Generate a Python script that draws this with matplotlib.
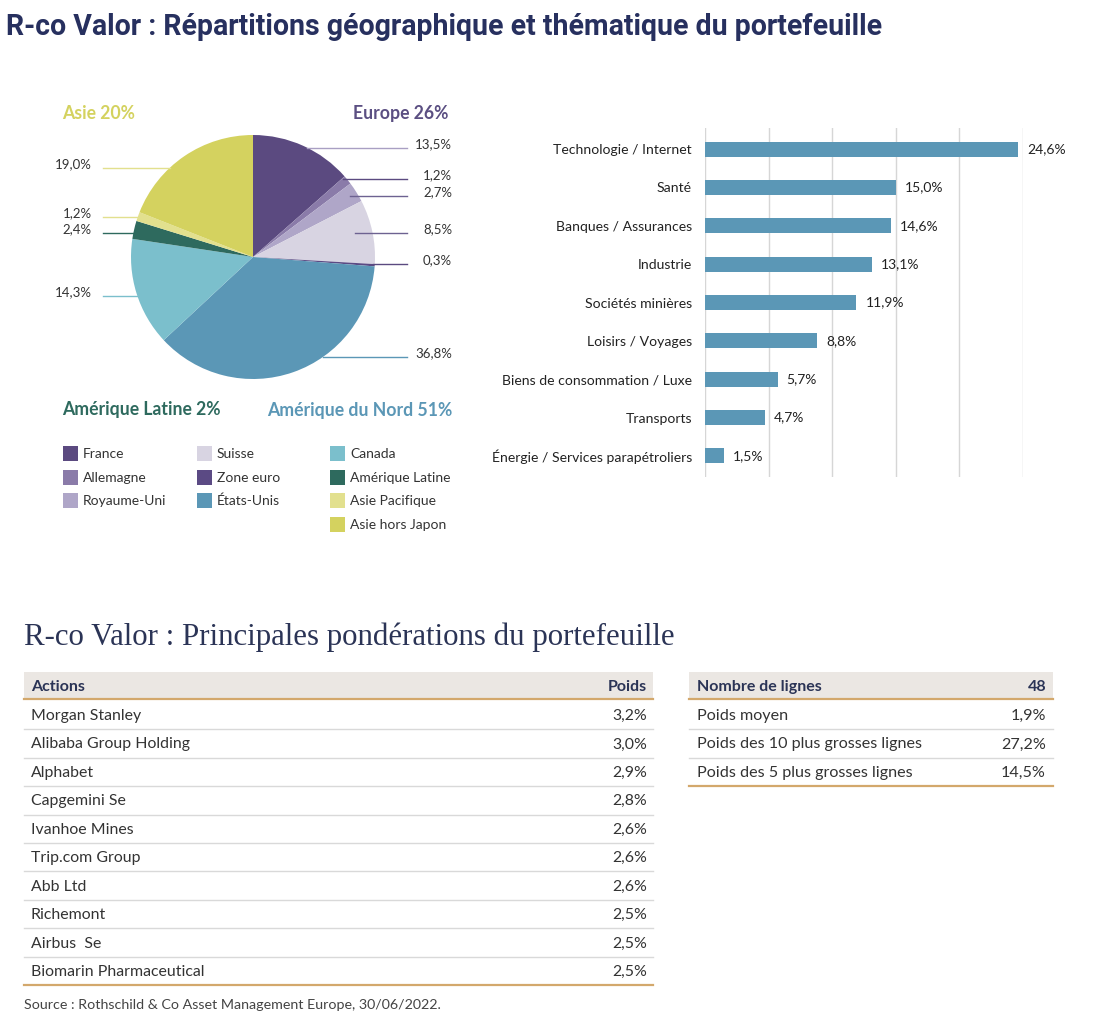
import matplotlib
matplotlib.use('Agg')
import matplotlib.pyplot as plt
from matplotlib.patches import Rectangle

# ---------------- data ----------------
geo_labels = ['France', 'Allemagne', 'Royaume-Uni', 'Suisse', 'Zone euro',
              'États-Unis', 'Canada', 'Amérique Latine', 'Asie Pacifique', 'Asie hors Japon']
geo_values = [13.5, 1.2, 2.7, 8.5, 0.3, 36.8, 14.3, 2.4, 1.2, 19.0]
geo_colors = ['#5b4a80', '#8a7ba9', '#afa6c8', '#d8d4e2', '#5b4a84',
              '#5b97b6', '#7bbfcc', '#2e6a5e', '#e2e08e', '#d4d25f']
region_labels = ['Asie 20%', 'Europe 26%', 'Amérique Latine 2%', 'Amérique du Nord 51%']
region_colors = ['#d4d25f', '#5b4f82', '#2e6a5e', '#5b97b6']

sector_labels = ['Technologie / Internet', 'Santé', 'Banques / Assurances', 'Industrie',
                 'Sociétés minières', 'Loisirs / Voyages', 'Biens de consommation / Luxe',
                 'Transports', 'Énergie / Services parapétroliers']
sector_values = [24.6, 15.0, 14.6, 13.1, 11.9, 8.8, 5.7, 4.7, 1.5]

actions = ['Morgan Stanley', 'Alibaba Group Holding', 'Alphabet', 'Capgemini Se',
           'Ivanhoe Mines', 'Trip.com Group', 'Abb Ltd', 'Richemont', 'Airbus  Se',
           'Biomarin Pharmaceutical']
poids = [3.2, 3.0, 2.9, 2.8, 2.6, 2.6, 2.6, 2.5, 2.5, 2.5]

stats_header = ['Nombre de lignes', '48']
stats_labels = ['Poids moyen', 'Poids des 10 plus grosses lignes', 'Poids des 5 plus grosses lignes']
stats_values = [1.9, 27.2, 14.5]

title1 = 'R-co Valor : Répartitions géographique et thématique du portefeuille'
title2 = 'R-co Valor : Principales pondérations du portefeuille'
source = 'Source : Rothschild & Co Asset Management Europe, 30/06/2022.'


def fmt(v):
    return f'{v:.1f}'.replace('.', ',') + '%'


# ---------------- layout ----------------
W, H = 1099, 1036
fig = plt.figure(figsize=(W / 100, H / 100), dpi=100)
fig.patch.set_facecolor('white')
SANS = ['Lato', 'DejaVu Sans']
NAVY = '#2b3456'
TXT = '#333333'


def px_axes(x0, y0, x1, y1):
    return fig.add_axes([x0 / W, 1 - y1 / H, (x1 - x0) / W, (y1 - y0) / H])


# pie
axp = px_axes(131, 135, 375, 379)
axp.pie(geo_values, colors=geo_colors, startangle=90, counterclock=False,
        radius=1, wedgeprops=dict(linewidth=0))
axp.set_xlim(-1, 1)
axp.set_ylim(-1, 1)
axp.set_aspect('equal')
axp.axis('off')

# bars
axb = px_axes(705, 128, 1023, 477)
ypos = list(range(len(sector_values)))
axb.barh(ypos, sector_values, height=0.39, color='#5b97b6')
axb.set_xlim(0, 25)
axb.set_ylim(8.55, -0.55)
axb.set_xticks([0, 5, 10, 15, 20, 25])
axb.xaxis.grid(True, color='#d6d6d6', lw=1)
axb.set_axisbelow(True)
axb.tick_params(axis='x', length=0, labelbottom=False)
axb.set_yticks(ypos, sector_labels)
axb.tick_params(axis='y', length=0, pad=9.4, labelsize=10.1, labelcolor='#222222')
for lab in axb.get_yticklabels():
    lab.set_family(SANS)
for s in axb.spines.values():
    s.set_visible(False)
for i, v in enumerate(sector_values):
    axb.annotate(fmt(v), (v, i), xytext=(6.5, 0), textcoords='offset points',
                 va='center', ha='left', fontsize=10, color='#222222', family=SANS)

# overlay in pixel coordinates
ov = fig.add_axes([0, 0, 1, 1])
ov.set_xlim(0, W)
ov.set_ylim(H, 0)
ov.axis('off')

renderer = fig.canvas.get_renderer()


def fit_text(x, y, s, width, **kw):
    t = ov.text(x, y, s, **kw)
    bb = t.get_window_extent(renderer=renderer)
    t.set_fontsize(t.get_fontsize() * width / bb.width)
    return t


fit_text(6, 35, title1, 874, fontsize=20, fontweight='bold', color='#27305f',
         family=['Liberation Sans Narrow', 'Roboto'], va='baseline', ha='left')
fit_text(24, 645, title2, 649, fontsize=22, color=NAVY,
         family=['Liberation Serif', 'DejaVu Serif'], va='baseline', ha='left')

# region labels
reg_pos = [(62, 113, 'left'), (448, 113, 'right'), (62, 409, 'left'), (452, 410, 'right')]
for (x, y, ha), s, c in zip(reg_pos, region_labels, region_colors):
    ov.text(x, y + 5.8, s, ha=ha, va='baseline', fontsize=12.7, fontweight='bold',
            color=c, family=SANS)

# pie value labels with leader lines
label_y = [143, 174, 191, 228, 259, 352, 291, 228, 212, 163]
line_x0 = [307, 343, 350, 355, 373, 323, 137, 133, 138, 170]
line_cols = ['#a99fc3', '#5b4a80', '#6d6291', '#6d6291', '#5b4a80',
             '#5b97b6', '#7bbfcc', '#2e6a5e', '#e2e08e', '#e2e08e']
for i, v in enumerate(geo_values):
    y = label_y[i]
    if i < 6:
        ov.plot([line_x0[i], 407], [y + 5, y + 5], color=line_cols[i], lw=1)
        ov.text(452, y + 4.7, fmt(v), ha='right', va='baseline', fontsize=9.5,
                color=TXT, family=SANS)
    else:
        ov.plot([103, line_x0[i]], [y + 5, y + 5], color=line_cols[i], lw=1)
        ov.text(92, y + 4.7, fmt(v), ha='right', va='baseline', fontsize=9.5,
                color=TXT, family=SANS)

# legend
leg_pos = [(63, 453), (63, 477), (63, 500),
           (197, 453), (197, 477), (197, 500),
           (330, 453), (330, 477), (330, 500), (330, 524)]
for (x, y), lab, c in zip(leg_pos, geo_labels, geo_colors):
    ov.add_patch(Rectangle((x, y - 7.5), 15, 15, color=c, lw=0))
    ov.text(x + 20, y + 4.8, lab, ha='left', va='baseline', fontsize=10,
            color=TXT, family=SANS)

# table 1
GOLD = '#d3a86c'
SEP = '#d9d9d9'
HEAD_BG = '#ebe7e3'
ov.add_patch(Rectangle((24, 672), 629, 27, color=HEAD_BG, lw=0))
ov.plot([24, 653], [699, 699], color=GOLD, lw=1.6)
ov.text(31, 691, 'Actions', ha='left', va='baseline', fontsize=11.5, fontweight='bold',
        color=NAVY, family=SANS)
ov.text(647, 691, 'Poids', ha='right', va='baseline', fontsize=11.5, fontweight='bold',
        color=NAVY, family=SANS)
row_h = 28.45
for i, (a, p) in enumerate(zip(actions, poids)):
    yc = 715 + i * row_h
    ov.text(31, yc + 5, a, ha='left', va='baseline', fontsize=11.4, color=TXT, family=SANS)
    ov.text(647, yc + 5, fmt(p), ha='right', va='baseline', fontsize=11.4, color=TXT,
            family=SANS)
    last = i == len(actions) - 1
    ov.plot([24, 653], [yc + 14.2, yc + 14.2], color=GOLD if last else SEP,
            lw=1.6 if last else 1)

# table 2
ov.add_patch(Rectangle((689, 672), 364, 27, color=HEAD_BG, lw=0))
ov.plot([689, 1053], [699, 699], color=GOLD, lw=1.6)
ov.text(697, 691, stats_header[0], ha='left', va='baseline', fontsize=11.5,
        fontweight='bold', color=NAVY, family=SANS)
ov.text(1046, 691, stats_header[1], ha='right', va='baseline', fontsize=11.5,
        fontweight='bold', color=NAVY, family=SANS)
for i, (l, v) in enumerate(zip(stats_labels, stats_values)):
    yc = 715 + i * row_h
    ov.text(697, yc + 5, l, ha='left', va='baseline', fontsize=11.6, color=TXT, family=SANS)
    ov.text(1046, yc + 5, fmt(v), ha='right', va='baseline', fontsize=11.6, color=TXT,
            family=SANS)
    last = i == len(stats_labels) - 1
    ov.plot([689, 1053], [yc + 14.2, yc + 14.2], color=GOLD if last else SEP,
            lw=1.6 if last else 1)

ov.text(24, 1009, source, ha='left', va='baseline', fontsize=10.3, color='#444444',
        family=SANS)

fig.savefig('out.png', dpi=100, facecolor='white')
